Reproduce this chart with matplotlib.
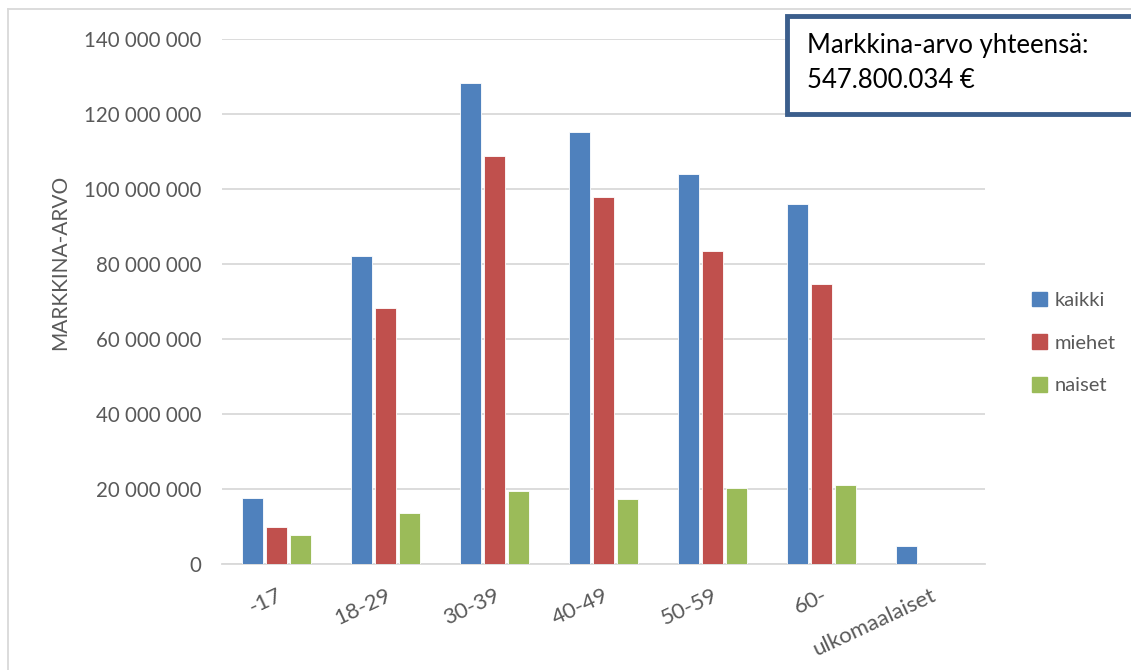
import matplotlib.pyplot as plt
from matplotlib.patches import Rectangle
from matplotlib.lines import Line2D
import numpy as np

plt.rcParams['font.family'] = ['Lato', 'DejaVu Sans']

categories = ['-17', '18-29', '30-39', '40-49', '50-59', '60-', 'ulkomaalaiset']
kaikki = [17.6e6, 82.1e6, 128.3e6, 115.2e6, 104.0e6, 96.0e6, 4.7e6]
miehet = [9.9e6, 68.3e6, 108.8e6, 97.9e6, 83.5e6, 74.7e6, 0]
naiset = [7.7e6, 13.6e6, 19.5e6, 17.3e6, 20.3e6, 21.1e6, 0]
series_names = ['kaikki', 'miehet', 'naiset']
colors = ['#4f81bd', '#c0504d', '#9bbb59']
yticks = np.arange(0, 140e6 + 1, 20e6)

W, H = 1131, 670
fig = plt.figure(figsize=(W / 100, H / 100), dpi=100)
ax = fig.add_axes([222 / W, 1 - 564 / H, (985 - 222) / W, (564 - 39) / H])

x = np.arange(len(categories))
bw = 0.185
step = 0.22
for i, (vals, name, c) in enumerate(zip([kaikki, miehet, naiset], series_names, colors)):
    ax.bar(x + (i - 1) * step, vals, width=bw, color=c, label=name,
           edgecolor='white', linewidth=0.6, zorder=3)

ax.set_xlim(-0.5, len(categories) - 0.5)
ax.set_ylim(0, 140e6)
ax.set_yticks(yticks)
ax.set_yticklabels([f'{int(v):,}'.replace(',', ' ') for v in yticks],
                   fontsize=14.8, color='#595959')
ax.grid(axis='y', color='#d9d9d9', linewidth=1.3, zorder=0)
ax.tick_params(axis='y', length=0, pad=15)
ax.tick_params(axis='x', length=0)
for s in ['top', 'right', 'left']:
    ax.spines[s].set_visible(False)
ax.spines['bottom'].set_color('#d9d9d9')
ax.spines['bottom'].set_linewidth(1.3)

ax.set_xticks(x)
ax.set_xticklabels(categories, rotation=25, ha='right', va='top',
                   rotation_mode='anchor', fontsize=16, color='#595959')
ax.tick_params(axis='x', pad=15)

ax.set_ylabel('MARKKINA-ARVO', fontsize=15, color='#595959')
ax.yaxis.set_label_coords((70 - 222) / (985 - 222), (564 - 262) / 525)

handles = [Rectangle((0, 0), 1, 1, color=c) for c in colors]
fig.legend(handles, series_names, loc='center left',
           bbox_to_anchor=(1014 / W, 1 - 343 / H), frameon=False,
           fontsize=14.5, labelcolor='#595959', handlelength=0.75,
           handleheight=0.75, handletextpad=0.35, labelspacing=1.25)

# outer chart frame (left and top edges)
fig.add_artist(Line2D([7.5 / W, 7.5 / W], [0, 1 - 8.5 / H], color='#d9d9d9', lw=1.3))
fig.add_artist(Line2D([7.5 / W, 1], [1 - 8.5 / H, 1 - 8.5 / H], color='#d9d9d9', lw=1.3))

# total value box
fig.add_artist(Rectangle((787 / W, 1 - 114 / H), (360) / W, 98 / H,
                         facecolor='white', edgecolor='#3b5e8c', linewidth=3.5,
                         transform=fig.transFigure, clip_on=False))
fig.text(807 / W, 1 - 45 / H, 'Markkina-arvo yhteensä:', fontsize=18.5,
         color='black', va='center', ha='left')
fig.text(807 / W, 1 - 81 / H, '547.800.034 €', fontsize=18.5,
         color='black', va='center', ha='left')

fig.savefig('out.png', dpi=100, facecolor='white')
